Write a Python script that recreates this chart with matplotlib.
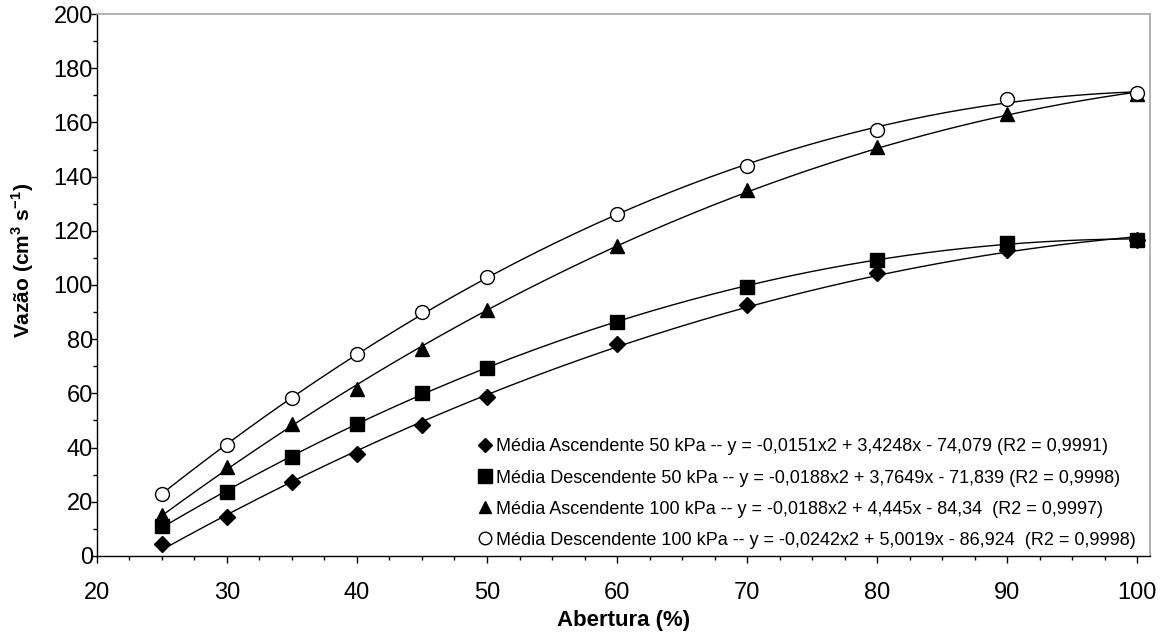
import numpy as np
import matplotlib
matplotlib.use("Agg")
import matplotlib.pyplot as plt
from matplotlib.ticker import MultipleLocator

plt.rcParams["font.family"] = ["Liberation Sans", "DejaVu Sans"]
plt.rcParams["mathtext.fontset"] = "custom"
plt.rcParams["mathtext.rm"] = "Liberation Sans"
plt.rcParams["mathtext.bf"] = "Liberation Sans:bold"

abertura = [25, 30, 35, 40, 45, 50, 60, 70, 80, 90, 100]
asc_50 = [4.4, 14.3, 27.4, 37.6, 48.3, 58.8, 78.1, 92.5, 104.3, 113.0, 116.5]
desc_50 = [11.1, 23.5, 36.5, 48.6, 60.3, 69.5, 86.5, 99.4, 109.2, 115.6, 116.7]
asc_100 = [15.0, 33.0, 48.7, 61.5, 76.5, 90.6, 114.5, 135.0, 151.0, 163.0, 170.5]
desc_100 = [22.8, 41.1, 58.2, 74.5, 90.1, 102.8, 126.1, 144.0, 157.2, 168.6, 171.0]

labels = [
    "Média Ascendente 50 kPa -- y = -0,0151x2 + 3,4248x - 74,079 (R2 = 0,9991)",
    "Média Descendente 50 kPa -- y = -0,0188x2 + 3,7649x - 71,839 (R2 = 0,9998)",
    "Média Ascendente 100 kPa -- y = -0,0188x2 + 4,445x - 84,34  (R2 = 0,9997)",
    "Média Descendente 100 kPa -- y = -0,0242x2 + 5,0019x - 86,924  (R2 = 0,9998)",
]

series = [asc_50, desc_50, asc_100, desc_100]
# marker, size, face colour
styles = [("D", 8, "black"), ("s", 10.5, "black"), ("^", 10, "black"), ("o", 10, "white")]

fig = plt.figure(figsize=(11.74, 6.39), dpi=100)
ax = fig.add_axes([0.0826, 0.130, 0.8970, 0.848])

x = np.array(abertura, dtype=float)
xs = np.linspace(x.min(), x.max(), 200)
for vals, (mk, ms, fc), lab in zip(series, styles, labels):
    # 2nd order trendline, as in the original chart
    coef = np.polyfit(x, np.array(vals), 2)
    ax.plot(xs, np.polyval(coef, xs), color="black", lw=1.0, zorder=2)
    ax.plot(x, vals, linestyle="none", marker=mk, ms=ms, mfc=fc,
            mec="black", mew=1.0, zorder=3)

ax.set_xlim(20, 101)
ax.set_ylim(0, 200)
ax.xaxis.set_major_locator(MultipleLocator(10))
ax.xaxis.set_minor_locator(MultipleLocator(2.5))
ax.yaxis.set_major_locator(MultipleLocator(20))
ax.yaxis.set_minor_locator(MultipleLocator(10))

ax.tick_params(axis="x", which="major", length=5, width=1, pad=14, labelsize=17)
ax.tick_params(axis="x", which="minor", length=3, width=1)
ax.tick_params(axis="y", which="major", length=4, width=1, pad=-1, labelsize=17)
ax.tick_params(axis="y", which="minor", length=3, width=1)

for s in ["left", "bottom"]:
    ax.spines[s].set_color("black")
    ax.spines[s].set_linewidth(1.0)
for s in ["top", "right"]:
    ax.spines[s].set_color("#a6a6a6")
    ax.spines[s].set_linewidth(1.2)

ax.set_xlabel("Abertura (%)", fontsize=16, fontweight="bold")
ax.xaxis.set_label_coords(0.5, -0.100)
ax.set_ylabel("Vazão (cm$^\\mathbf{3}$ s$^\\mathbf{-1}$)", fontsize=15, fontweight="bold")
ax.yaxis.set_label_coords(-0.058, 0.546)

leg_handles = []
for mk, ms, fc in styles:
    leg_handles.append(plt.Line2D([], [], linestyle="none", marker=mk,
                                  ms=ms * 0.9, mfc=fc, mec="black", mew=1.0))
ax.legend(leg_handles, labels, loc="lower left", bbox_to_anchor=(0.355, 0.0),
          frameon=False, fontsize=13, handlelength=0.8, handletextpad=0.2,
          labelspacing=0.78, borderaxespad=0)

fig.savefig("out.png", dpi=100)
